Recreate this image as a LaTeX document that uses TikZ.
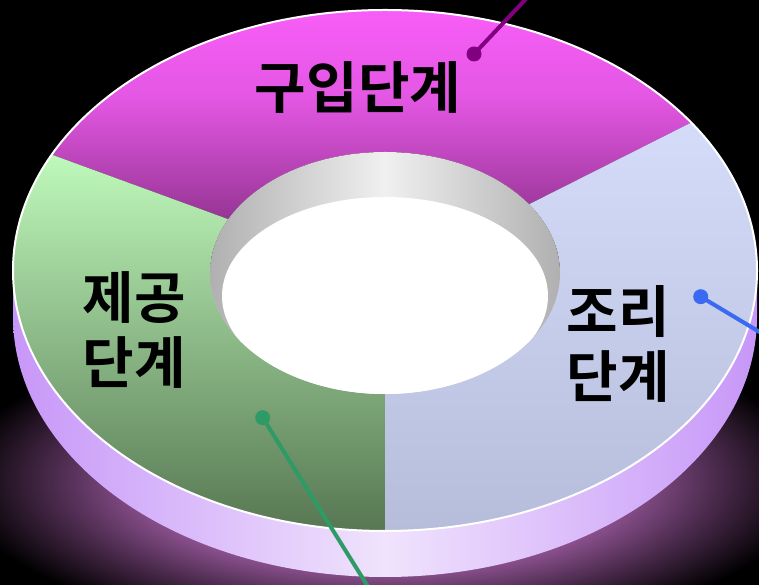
\documentclass[tikz,border=0pt]{standalone}
\usepackage{fontspec}
\newfontfamily\krfont{Noto Sans CJK KR}[BoldFont={Noto Sans CJK KR Bold}]
\usetikzlibrary{calc}
\definecolor{glowc}{HTML}{9E5CA2}
\definecolor{glowmid}{HTML}{4E2C50}
\definecolor{magtop}{HTML}{FF60FF}
\definecolor{magmid}{HTML}{E457E4}
\definecolor{magbot}{HTML}{963594}
\definecolor{grntop}{HTML}{BFF9BB}
\definecolor{grnbot}{HTML}{577752}
\definecolor{blutop}{HTML}{D4DCFA}
\definecolor{blubot}{HTML}{B6BDDA}
\definecolor{sidedark}{HTML}{C797F8}
\definecolor{sidelight}{HTML}{F0E3FD}
\definecolor{wallgrey}{HTML}{B0B0B0}
\definecolor{walllight}{HTML}{F0F0F0}
\definecolor{magline}{HTML}{800080}
\definecolor{bluline}{HTML}{3A6AF2}
\definecolor{grnline}{HTML}{2E9A66}
\pgfdeclareradialshading{glowshade}{\pgfpoint{0bp}{0bp}}{color(0bp)=(glowc); color(13bp)=(glowc); color(19bp)=(glowmid); color(25bp)=(black); color(50bp)=(black)}
\begin{document}
\begin{tikzpicture}[x=1pt,y=1pt,
  lbl/.style={font=\krfont\bfseries\fontsize{56pt}{65pt}\selectfont, text=black, align=center, inner sep=0pt},
  dotnode/.style={circle, minimum size=15pt, inner sep=0pt},
  conn/.style={line width=4pt}]
\useasboundingbox (0,0) rectangle (759,585);
\fill[black] (0,0) rectangle (759,585);
\begin{scope}
\clip (0,0) rectangle (759,585);
\coordinate (C1) at (385,314.5);
\coordinate (C4) at (385,268.5);
\coordinate (C2) at (385,312);
\coordinate (C3) at (385,289);
% glow
\shade[shading=glowshade] (385,105) ellipse [x radius=430, y radius=160];
% side band
\shade[left color=sidedark, right color=sidedark, middle color=sidelight]
  ($(C1)+(-372,0)$) -- ($(C4)+(-372,0)$)
  arc[start angle=180, end angle=360, x radius=372, y radius=260.5]
  -- ($(C1)+(372,0)$) -- cycle;
% magenta segment
\shade[top color=magtop, bottom color=magbot, middle color=magmid]
  ($(C1)+(34.6:372 and 260.5)$) arc[start angle=34.6, end angle=153.6, x radius=372, y radius=260.5]
  -- ($(C2)+(153.6:175 and 121)$) arc[start angle=153.6, end angle=34.6, x radius=175, y radius=121] -- cycle;
% green segment
\shade[top color=grntop, bottom color=grnbot]
  ($(C1)+(153.6:372 and 260.5)$) arc[start angle=153.6, end angle=270, x radius=372, y radius=260.5]
  -- ($(C2)+(270:175 and 121)$) arc[start angle=270, end angle=153.6, x radius=175, y radius=121] -- cycle;
% blue segment
\shade[top color=blutop, bottom color=blubot]
  ($(C1)+(270:372 and 260.5)$) arc[start angle=270, end angle=394.6, x radius=372, y radius=260.5]
  -- ($(C2)+(394.6:175 and 121)$) arc[start angle=394.6, end angle=270, x radius=175, y radius=121] -- cycle;
% outline
\draw[white, line width=2pt] (C1) ellipse [x radius=372, y radius=260.5];
% inner wall
\shade[left color=wallgrey, right color=wallgrey, middle color=walllight] (C2) ellipse [x radius=175, y radius=121];
\begin{scope}
\clip (C2) ellipse [x radius=175, y radius=121];
\fill[white] (C3) ellipse [x radius=163, y radius=99];
\end{scope}
% labels
\node[lbl] (buy) at (358,497.5) {구입단계};
\node[lbl] (serve) at (134,254.5) {제공\\단계};
\node[lbl] (cook) at (618,241.5) {조리\\단계};
% connectors
\node[dotnode, fill=magline] (d1) at (474,531) {};
\coordinate (e1) at (534.4,595);
\draw[conn, magline] (d1.center) -- (e1);
\node[dotnode, fill=bluline] (d2) at (700.7,288.3) {};
\coordinate (e2) at (775,243.7);
\draw[conn, bluline] (d2.center) -- (e2);
\node[dotnode, fill=grnline] (d3) at (262.7,167.3) {};
\coordinate (e3) at (373.2,-10);
\draw[conn, grnline] (d3.center) -- (e3);
\end{scope}
\end{tikzpicture}
\end{document}
